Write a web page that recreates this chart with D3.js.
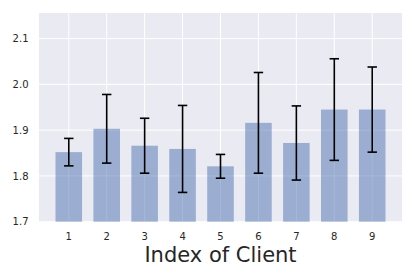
<!DOCTYPE html>
<html><head><meta charset="utf-8">
<script src="https://cdn.jsdelivr.net/npm/d3@7"></script>
<style>body{margin:0;background:#fff}svg{display:block}</style>
</head><body>
<script>
const clients = [1,2,3,4,5,6,7,8,9];
const means = [1.852,1.903,1.866,1.859,1.821,1.916,1.872,1.945,1.945];
const errors = [0.030,0.075,0.060,0.095,0.026,0.110,0.081,0.111,0.093];
const yTicks = [1.7,1.8,1.9,2.0,2.1];
const xLabel = "Index of Client";

const W=415,H=277;
const m={left:39,right:13,top:13,bottom:55.3};
const svg=d3.select("body").append("svg").attr("width",W).attr("height",H);
const x=d3.scaleLinear().domain([0.215,9.785]).range([m.left,W-m.right]);
const y=d3.scaleLinear().domain([1.7,2.156]).range([H-m.bottom,m.top]);

svg.append("rect").attr("x",m.left).attr("y",m.top)
  .attr("width",W-m.left-m.right).attr("height",H-m.top-m.bottom).attr("fill","#EAEAF2");

const g=svg.append("g");
g.selectAll(".hg").data(yTicks).join("line")
  .attr("x1",m.left).attr("x2",W-m.right)
  .attr("y1",d=>y(d)).attr("y2",d=>y(d))
  .attr("stroke","#fff").attr("stroke-width",1);
g.selectAll(".vg").data(clients).join("line")
  .attr("x1",d=>x(d)).attr("x2",d=>x(d))
  .attr("y1",m.top).attr("y2",H-m.bottom)
  .attr("stroke","#fff").attr("stroke-width",1);

const bw=0.7;
svg.selectAll(".bar").data(clients).join("rect")
  .attr("x",(d)=>x(d-bw/2)).attr("width",x(bw)-x(0))
  .attr("y",(d,i)=>y(means[i])).attr("height",(d,i)=>y(1.7)-y(means[i]))
  .attr("fill","#4C72B0").attr("fill-opacity",0.5);

const eb=svg.append("g").attr("stroke","#000").attr("stroke-width",1.6);
clients.forEach((c,i)=>{
  const cx=x(c), y1=y(means[i]+errors[i]), y0=y(means[i]-errors[i]);
  eb.append("line").attr("x1",cx).attr("x2",cx).attr("y1",y1).attr("y2",y0);
  eb.append("line").attr("x1",cx-4.7).attr("x2",cx+4.7).attr("y1",y1).attr("y2",y1);
  eb.append("line").attr("x1",cx-4.7).attr("x2",cx+4.7).attr("y1",y0).attr("y2",y0);
});

const font="DejaVu Sans";
svg.selectAll(".yl").data(yTicks).join("text")
  .attr("x",28.5).attr("y",d=>y(d)).attr("dy","0.36em")
  .attr("text-anchor","end").attr("font-family",font).attr("font-size",10)
  .attr("fill","#262626").text(d=>d3.format(".1f")(d));
svg.selectAll(".xl").data(clients).join("text")
  .attr("x",d=>x(d)).attr("y",240)
  .attr("text-anchor","middle").attr("font-family",font).attr("font-size",10)
  .attr("fill","#262626").text(d=>d);
svg.append("text").attr("x",(m.left+W-m.right)/2).attr("y",261.7)
  .attr("text-anchor","middle").attr("font-family",font).attr("font-size",21)
  .attr("fill","#262626").text(xLabel);
</script>
</body></html>
